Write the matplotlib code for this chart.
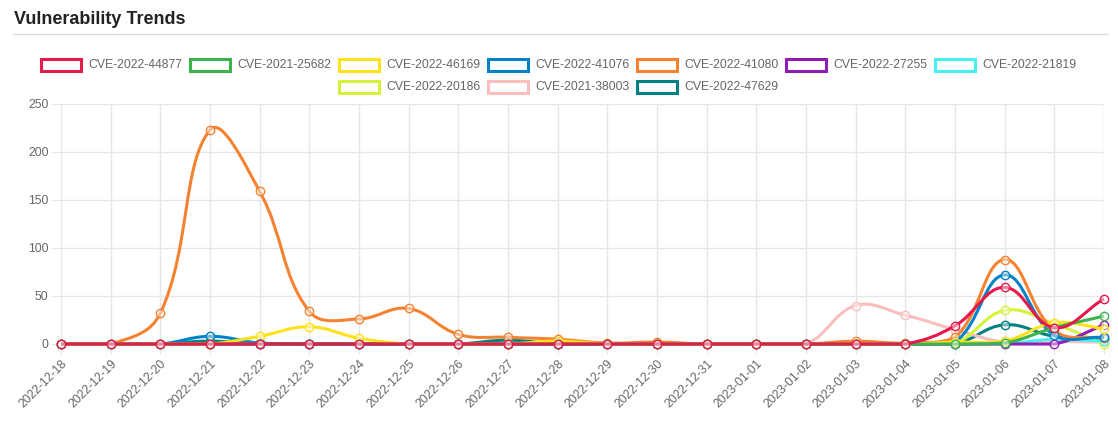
import numpy as np
import matplotlib
matplotlib.use("Agg")
import matplotlib.pyplot as plt
from matplotlib.path import Path
from matplotlib.patches import PathPatch, Rectangle
from matplotlib.lines import Line2D

plt.rcParams['font.family'] = ['Liberation Sans', 'DejaVu Sans']

# data
dates = ['2022-12-18', '2022-12-19', '2022-12-20', '2022-12-21', '2022-12-22', '2022-12-23',
         '2022-12-24', '2022-12-25', '2022-12-26', '2022-12-27', '2022-12-28', '2022-12-29',
         '2022-12-30', '2022-12-31', '2023-01-01', '2023-01-02', '2023-01-03', '2023-01-04',
         '2023-01-05', '2023-01-06', '2023-01-07', '2023-01-08']

cve_names = ['CVE-2022-44877', 'CVE-2021-25682', 'CVE-2022-46169', 'CVE-2022-41076',
             'CVE-2022-41080', 'CVE-2022-27255', 'CVE-2022-21819', 'CVE-2022-20186',
             'CVE-2021-38003', 'CVE-2022-47629']

cve_2022_44877 = [0, 0, 0, 0, 0, 0, 0, 0, 0, 0, 0, 0, 0, 0, 0, 0, 0, 0, 19, 59, 17, 47]
cve_2021_25682 = [0, 0, 0, 0, 0, 0, 0, 0, 0, 0, 0, 0, 0, 0, 0, 0, 0, 0, 0, 1, 17, 29]
cve_2022_46169 = [0, 0, 0, 0, 8, 18, 6, 0, 0, 0, 3, 0, 0, 0, 0, 0, 0, 0, 2, 3, 22, 16]
cve_2022_41076 = [0, 0, 0, 8, 1, 0, 0, 0, 0, 0, 0, 0, 0, 0, 0, 0, 0, 0, 2, 72, 9, 7]
cve_2022_41080 = [0, 0, 32, 223, 159, 34, 26, 37, 10, 7, 5, 1, 2, 0, 0, 0, 3, 1, 7, 88, 14, 6]
cve_2022_27255 = [0, 0, 0, 0, 0, 0, 0, 0, 0, 0, 0, 0, 0, 0, 0, 0, 0, 0, 0, 0, 0, 20]
cve_2022_21819 = [0, 0, 0, 0, 0, 0, 0, 0, 0, 0, 0, 0, 0, 0, 0, 0, 0, 0, 0, 0, 5, 3]
cve_2022_20186 = [0, 0, 0, 0, 0, 0, 0, 0, 0, 0, 0, 0, 0, 0, 0, 0, 0, 0, 1, 35, 21, 0]
cve_2021_38003 = [0, 0, 0, 0, 0, 0, 0, 0, 0, 0, 0, 0, 0, 0, 0, 0, 40, 30, 15, 2, 3, 2]
cve_2022_47629 = [0, 0, 0, 3, 0, 0, 0, 0, 0, 4, 0, 0, 0, 0, 0, 0, 0, 0, 0, 20, 8, 5]

series = [cve_2022_44877, cve_2021_25682, cve_2022_46169, cve_2022_41076, cve_2022_41080,
          cve_2022_27255, cve_2022_21819, cve_2022_20186, cve_2021_38003, cve_2022_47629]
colors = ['#e6194b', '#3cb44b', '#ffe119', '#0082c8', '#f58231',
          '#911eb4', '#46f0f0', '#d2f53c', '#fabebe', '#008080']

W, H = 1118, 428
fig = plt.figure(figsize=(W / 100, H / 100), dpi=100)

def fx(px):
    return px / W

def fy(py):
    return 1 - py / H

# plot area in pixels
left, right, top, bottom = 61, 1104, 104, 344
ax = fig.add_axes([fx(left), fy(bottom), fx(right - left), (bottom - top) / H])
ax.set_xlim(0, len(dates) - 1)
ax.set_ylim(0, 250)

# grid like chart.js
ax.set_yticks(range(0, 251, 50))
ax.set_xticks(range(len(dates)))
ax.set_xticklabels(dates, rotation=45, ha='right', rotation_mode='anchor')
ax.grid(True, color='#e6e6e6', linewidth=1)
ax.set_axisbelow(True)
for s in ax.spines.values():
    s.set_visible(False)
ax.axhline(0, color='#c4c4c4', linewidth=1, zorder=0.5)
ax.tick_params(axis='both', length=7, color='#e6e6e6', labelcolor='#666666', labelsize=8.8, pad=2)
ax.tick_params(axis='x', pad=3)


def spline_path(vals):
    # chart.js style bezier (tension 0.4) computed in pixel space
    pts = ax.transData.transform(np.column_stack([np.arange(len(vals)), vals]))
    bb = ax.bbox
    n = len(pts)
    cps_prev, cps_next = [], []
    for i in range(n):
        cur = pts[i]
        prev = pts[i - 1] if i > 0 else cur
        nxt = pts[i + 1] if i < n - 1 else cur
        d01 = np.hypot(*(cur - prev))
        d12 = np.hypot(*(nxt - cur))
        tot = d01 + d12
        s01 = d01 / tot if tot else 0
        s12 = d12 / tot if tot else 0
        fa, fb = 0.4 * s01, 0.4 * s12
        p = cur - fa * (nxt - prev)
        q = cur + fb * (nxt - prev)
        for c in (p, q):
            c[0] = min(max(c[0], bb.x0), bb.x1)
            c[1] = min(max(c[1], bb.y0), bb.y1)
        cps_prev.append(p)
        cps_next.append(q)
    verts = [pts[0]]
    codes = [Path.MOVETO]
    for i in range(n - 1):
        verts += [cps_next[i], cps_prev[i + 1], pts[i + 1]]
        codes += [Path.CURVE4] * 3
    inv = ax.transData.inverted()
    return Path(inv.transform(np.array(verts)), codes)


n_series = len(series)
for k, (vals, col) in enumerate(zip(series, colors)):
    z = 10 + (n_series - k) * 2
    ax.add_patch(PathPatch(spline_path(vals), facecolor='none', edgecolor=col,
                           linewidth=2.2, zorder=z, clip_on=False))
    ax.plot(range(len(vals)), vals, linestyle='none', marker='o', markersize=6,
            markeredgecolor=col, markerfacecolor=(1, 1, 1, 0.45), markeredgewidth=1,
            zorder=z + 1, clip_on=False)

# title and separator
fig.text(fx(14), fy(19), 'Vulnerability Trends', fontsize=13, fontweight='bold',
         color='#222222', va='center', ha='left')
fig.add_artist(Line2D([fx(13), fx(1108)], [fy(34), fy(34)], color='#dedede', linewidth=1))

# legend, centred rows like chart.js
step = 149
rows = [list(range(0, 7)), list(range(7, 10))]
row_y = [65, 87]
for row, yc in zip(rows, row_y):
    total = len(row) * step - 8
    x0 = 558.5 - total / 2
    for j, k in enumerate(row):
        bx = x0 + j * step
        fig.add_artist(Rectangle((fx(bx), fy(yc + 6)), fx(40), 12 / H, facecolor='white',
                                 edgecolor=colors[k], linewidth=2.2))
        fig.text(fx(bx + 47), fy(yc), cve_names[k], fontsize=8.8, color='#666666',
                 va='center', ha='left')

fig.savefig('out.png', dpi=100)
